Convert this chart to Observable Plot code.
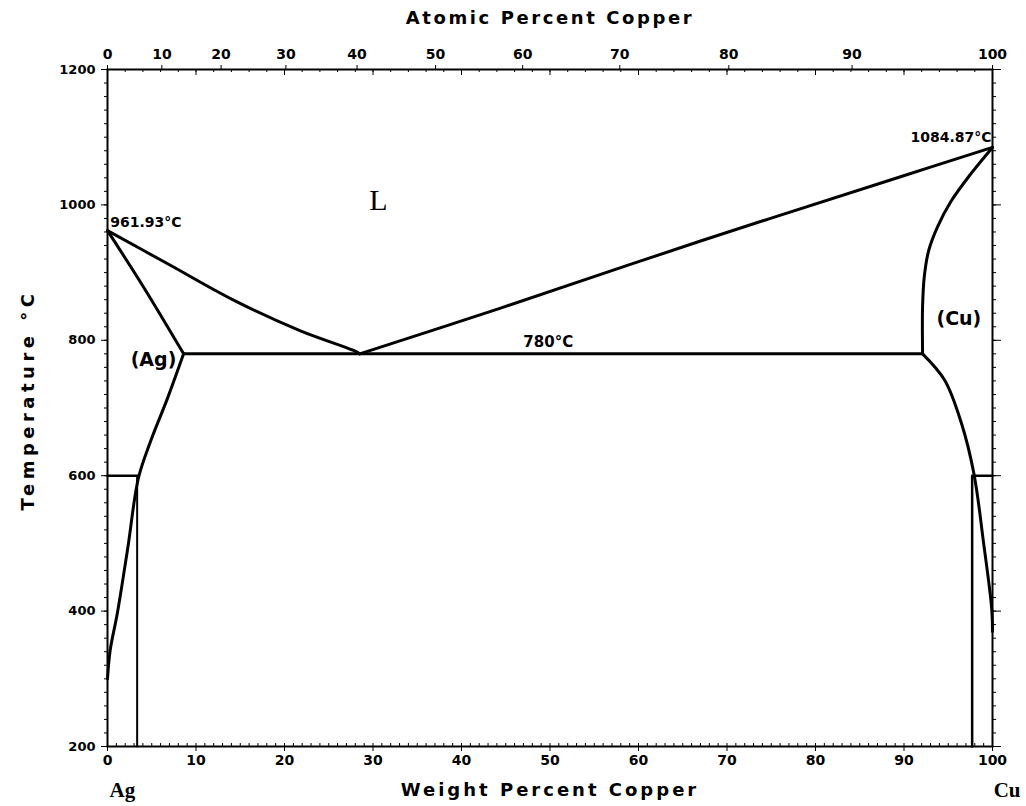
<!DOCTYPE html>
<html><head><meta charset="utf-8">
<script src="https://cdn.jsdelivr.net/npm/d3@7"></script>
<script src="https://cdn.jsdelivr.net/npm/@observablehq/plot@0.6"></script>
<style>body{margin:0;background:#fff} svg{display:block}</style>
</head><body><div id="chart"></div>
<script>
// Phase boundaries, [weight % Cu, temperature °C]
const liquidusAg = [[0,961.93],[6.8,913],[14.3,859],[21.8,814],[27.8,785],[28.5,780]];
const liquidusCu = [[28.5,780],[44.5,848],[67.1,947],[89.7,1042],[100,1084.87]];
const solidusAg = [[0,961.93],[4.1,878],[8.6,780]];
const solvusAg = [[8.6,780],[6.8,715],[4.9,652],[3.5,597],[2.3,494],[1.1,396],[0.3,342],[0,300]];
const solidusCu = [[100,1084.87],[97.5,1045],[95.3,1005],[93.8,968],[92.8,933],[92.3,895],[92.1,850],[92.1,780]];
const solvusCu = [[92.1,780],[94.6,741],[96.5,677],[97.9,603],[99.0,500],[99.9,405],[100,370]];
const eutectic = [[8.6,780],[92.1,780]];
const markAgV = [[3.35,600],[3.35,200]];
const markAgH = [[0,600],[3.5,600]];
const markCuV = [[97.7,600],[97.7,200]];
const markCuH = [[97.9,600],[100,600]];

// Axis ticks
const weightTicks = [0,10,20,30,40,50,60,70,80,90,100];
const atomicTicks = [0,10,20,30,40,50,60,70,80,90,100];
const tempTicks = [200,400,600,800,1000,1200];

// Annotations
const agMeltLabel = [{w: 0.3, t: 974, text: "961.93°C"}];
const cuMeltLabel = [{w: 99.9, t: 1099, text: "1084.87°C"}];
const eutecticLabel = [{w: 49.8, t: 797, text: "780°C"}];
const phaseLabels = [
  {w: 5.2, t: 771, text: "(Ag)"},
  {w: 96.2, t: 832, text: "(Cu)"}
];
const liquidLabel = [{w: 30.6, t: 1007, text: "L"}];

const M_CU = 63.546, M_AG = 107.868;
const atToWt = a => 100 * a * M_CU / (a * M_CU + (100 - a) * M_AG);
const atByWt = new Map(atomicTicks.map(a => [atToWt(a), String(a)]));

const font = "DejaVu Sans";
const blank = () => "";
const plain = d => String(d);
const line = (data, extra = {}) => Plot.line(data, {x: d => d[0], y: d => d[1], stroke: "#000", strokeWidth: 3, strokeLinejoin: "round", ...extra});

const chart = Plot.plot({
  width: 1026, height: 806,
  marginLeft: 107, marginRight: 34, marginTop: 69, marginBottom: 60,
  style: {fontFamily: font, background: "#fff", color: "#000"},
  x: {domain: [0, 100]},
  y: {domain: [200, 1200]},
  marks: [
    Plot.frame({stroke: "#000", strokeWidth: 2}),
    // bottom axis
    Plot.axisX(weightTicks, {anchor: "bottom", tickSize: 5, tickPadding: 4, fontSize: 14, fontWeight: "bold", tickFormat: plain, label: null}),
    Plot.axisX(d3.range(0, 101, 1), {anchor: "bottom", tickSize: -3, tickFormat: blank, label: null}),
    // top axis (atomic percent)
    Plot.axisX(atomicTicks.map(atToWt), {anchor: "top", tickSize: 5, tickPadding: 6, fontSize: 14, fontWeight: "bold", tickFormat: d => atByWt.get(d), label: null}),
    Plot.axisX(weightTicks, {anchor: "top", tickSize: -5, tickFormat: blank, label: null}),
    Plot.axisX(d3.range(0, 101, 2), {anchor: "top", tickSize: -2, tickFormat: blank, label: null}),
    // left axis
    Plot.axisY(tempTicks, {anchor: "left", tickSize: 6, tickPadding: 6, fontSize: 13, fontWeight: "bold", tickFormat: plain, label: null}),
    Plot.axisY(d3.range(200, 1201, 20), {anchor: "left", tickSize: 3, tickFormat: blank, label: null}),
    // right axis
    Plot.axisY(tempTicks, {anchor: "right", tickSize: 8, tickFormat: blank, label: null}),
    Plot.axisY(d3.range(200, 1201, 20), {anchor: "right", tickSize: 3, tickFormat: blank, label: null}),
    // phase boundaries
    line(markAgV, {strokeWidth: 2}),
    line(markAgH, {strokeWidth: 2.5}),
    line(markCuV, {strokeWidth: 2.5}),
    line(markCuH, {strokeWidth: 2.5}),
    line(eutectic),
    line(liquidusAg, {curve: "catmull-rom"}),
    line(liquidusCu, {curve: "catmull-rom"}),
    line(solidusAg, {curve: "catmull-rom"}),
    line(solvusAg, {curve: "catmull-rom"}),
    line(solidusCu, {curve: "catmull-rom"}),
    line(solvusCu, {curve: "catmull-rom"}),
    // annotations
    Plot.text(agMeltLabel, {x: "w", y: "t", text: "text", fontSize: 14, fontWeight: "bold", textAnchor: "start"}),
    Plot.text(cuMeltLabel, {x: "w", y: "t", text: "text", fontSize: 14, fontWeight: "bold", textAnchor: "end"}),
    Plot.text(eutecticLabel, {x: "w", y: "t", text: "text", fontSize: 15, fontWeight: "bold"}),
    Plot.text(phaseLabels, {x: "w", y: "t", text: "text", fontSize: 19, fontWeight: "bold"}),
    Plot.text(liquidLabel, {x: "w", y: "t", text: "text", fontSize: 30, fontFamily: "Liberation Serif"}),
    // axis titles
    Plot.text(["Atomic Percent Copper"], {frameAnchor: "top", lineAnchor: "middle", dy: -51, fontSize: 18, fontWeight: "bold"}),
    Plot.text(["Weight Percent Copper"], {frameAnchor: "bottom", lineAnchor: "middle", dy: 44, fontSize: 18, fontWeight: "bold"}),
    Plot.text(["Temperature °C"], {frameAnchor: "left", lineAnchor: "middle", textAnchor: "middle", dx: -79, dy: -8, rotate: -90, fontSize: 18, fontWeight: "bold"}),
    Plot.text(["Ag"], {frameAnchor: "bottom-left", lineAnchor: "middle", textAnchor: "start", dx: 2, dy: 44, fontSize: 21, fontWeight: "bold", fontFamily: "Liberation Serif"}),
    Plot.text(["Cu"], {frameAnchor: "bottom-right", lineAnchor: "middle", textAnchor: "end", dx: 28, dy: 44, fontSize: 21, fontWeight: "bold", fontFamily: "Liberation Serif"})
  ]
});
// widen the spacing of the axis titles as in the original typewriter-style lettering
const spacing = {"Atomic Percent Copper": 2.6, "Weight Percent Copper": 3, "Temperature °C": 4.5};
d3.select(chart).selectAll("text").each(function() {
  const s = spacing[this.textContent];
  if (s != null) this.setAttribute("letter-spacing", s);
});
document.getElementById("chart").append(chart);
</script>
</body></html>
